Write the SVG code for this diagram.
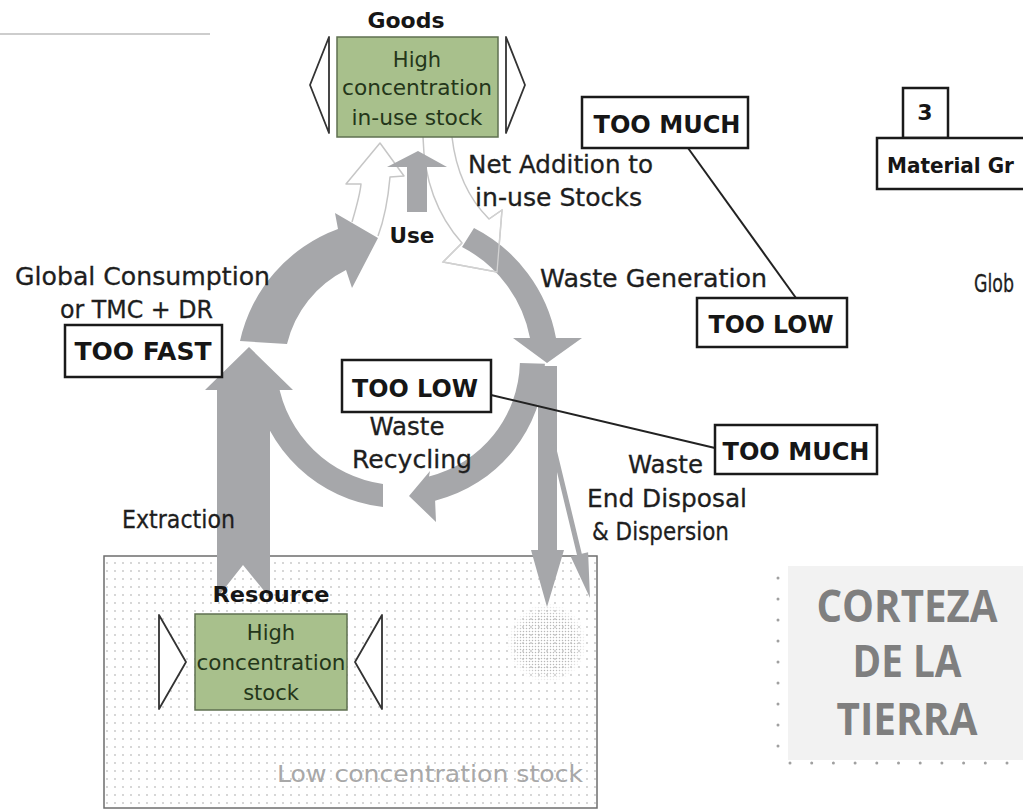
<svg xmlns="http://www.w3.org/2000/svg" width="1023" height="811" viewBox="0 0 1023 811">
  <style>
    .lbl { font-family: "DejaVu Sans", "Liberation Sans", sans-serif; font-size: 24px; fill: #1e1e1e; stroke: #1e1e1e; stroke-width: 0.3; }
    .bold { font-family: "DejaVu Sans", "Liberation Sans", sans-serif; font-weight: bold; fill: #161616; }
    .inbox { font-family: "DejaVu Sans", "Liberation Sans", sans-serif; font-size: 21px; fill: #24361a; text-anchor: middle; }
    .tag { font-family: "DejaVu Sans", "Liberation Sans", sans-serif; font-weight: bold; font-size: 25px; fill: #161616; text-anchor: middle; }
    .tagbox { fill: #ffffff; stroke: #1a1a1a; stroke-width: 2.5; }
    .stock { fill: #a8c08c; stroke: #5f7050; stroke-width: 1.5; }
    .tri { fill: #ffffff; stroke: #333333; stroke-width: 1.8; stroke-linejoin: round; }
    .flow { fill: #a6a7aa; }
    .ghost { fill: #ffffff; stroke: #c6c6c6; stroke-width: 1.5; stroke-linejoin: round; }
    .ghost-line { fill: none; stroke: #d2d2d2; stroke-width: 1.3; }
    .leader { stroke: #222222; stroke-width: 2; fill: none; }
    .crust { font-family: "Open Sans", "Liberation Sans", sans-serif; font-weight: bold; font-size: 44px; fill: #7f7f7f; text-anchor: middle; }
  </style>
  <defs>
    <pattern id="dots" width="8" height="8" patternUnits="userSpaceOnUse">
      <circle cx="3" cy="3" r="0.9" fill="#c4c4c4"/>
    </pattern>
    <pattern id="stipple" width="3" height="3" patternUnits="userSpaceOnUse">
      <circle cx="1.5" cy="1.5" r="0.75" fill="#b8b8b8"/>
    </pattern>
    <radialGradient id="fade">
      <stop offset="0.7" stop-color="#ffffff" stop-opacity="1"/>
      <stop offset="1" stop-color="#ffffff" stop-opacity="0"/>
    </radialGradient>
    <mask id="soft">
      <circle cx="547" cy="643" r="40" fill="url(#fade)"/>
    </mask>
  </defs>

  <rect width="1023" height="811" fill="#ffffff"/>

  <!-- thin rule at top left -->
  <line x1="0" y1="34" x2="210" y2="34" stroke="#bcbcbc" stroke-width="1.5"/>

  <!-- low concentration stock (ground) -->
  <g id="node-low-stock">
    <rect x="104" y="556" width="493" height="252" fill="#ffffff" stroke="#6e6e6e" stroke-width="1.5"/>
    <rect x="105" y="557" width="491" height="250" fill="url(#dots)"/>
    <circle cx="547" cy="643" r="40" fill="url(#stipple)" mask="url(#soft)"/>
    <text x="277" y="782" font-family="DejaVu Sans, Liberation Sans, sans-serif" font-size="23" fill="#a8a8a8" textLength="306" lengthAdjust="spacingAndGlyphs">Low concentration stock</text>
  </g>

  <!-- earth crust label -->
  <g id="node-crust">
    <rect x="788" y="566" width="235" height="194" fill="#f2f2f2"/>
    <line x1="778" y1="578" x2="778" y2="750" stroke="#a0a0a0" stroke-width="3" stroke-linecap="round" stroke-dasharray="0 21"/>
    <line x1="790" y1="763" x2="1020" y2="763" stroke="#a0a0a0" stroke-width="3" stroke-linecap="round" stroke-dasharray="0 21.7"/>
    <text class="crust" x="907" y="622" textLength="181" lengthAdjust="spacingAndGlyphs">CORTEZA</text>
    <text class="crust" x="907" y="677" textLength="109" lengthAdjust="spacingAndGlyphs">DE LA</text>
    <text class="crust" x="907" y="735" textLength="141" lengthAdjust="spacingAndGlyphs">TIERRA</text>
  </g>

  <!-- material flows -->
  <g id="connectors">
    <!-- outlined net-addition flows -->
    <path id="net-in" class="ghost" d="M352,222 C357,205 360,195 361,184 L346,184 L380,143 L404,176 L390,177 C388,200 384,220 378,236"/>
    <path id="net-out" class="ghost" d="M423,137 C424,180 437,215 462,243 L443,262 L497,272 L502,210 L489,219 C470,200 456,172 452,137"/>

    <!-- consumption arc into use -->
    <path class="flow" d="M240,341 A155,155 0 0,1 338,229 L335,213 L378,238 L352,288 L346,270 A112,112 0 0,0 287,344 Z"/>
    <!-- use arrow up to goods -->
    <path class="flow" d="M407,212 L407,167 L387,167 L418,151 L447,167 L427,167 L427,212 Z"/>
    <!-- waste generation arc -->
    <path class="flow" d="M474,228 A155,155 0 0,1 556,338 L582,338 L547,363 L513,338 L530,338 A130,130 0 0,0 462,247 Z"/>
    <!-- recycling arc -->
    <path class="flow" d="M544.9,363.8 A145,145 0 0,1 435.1,500.7 L436,522 L409,496 L430,471 L429,476.4 A120,120 0 0,0 519.9,363.1 Z"/>
    <!-- recycled material back to consumption -->
    <path class="flow" d="M383,507 A148,148 0 0,1 254.2,385.7 L277.9,381.5 A124,124 0 0,0 383,484 Z"/>
    <!-- extraction -->
    <path class="flow" d="M217,598 L217,390 L205,390 L249,347 L293,390 L270,390 L270,598 L243,565 Z"/>
    <!-- end disposal -->
    <path class="flow" d="M538,366 L557,366 L557,550 L564,550 L547,607 L531,550 L538,550 Z"/>
    <!-- dispersion -->
    <path class="flow" d="M550.6,445.6 L555.4,444.4 L581.8,553.7 L588.1,552.2 L590,598 L570.7,556.4 L577,554.9 Z"/>

    <!-- net addition outline visible across the waste arc -->
    <path class="ghost-line" d="M462,243 L443,262 L497,272 L502,210 L489,219"/>

    <!-- indicator leaders -->
    <line class="leader" x1="688" y1="148" x2="796" y2="298"/>
    <line class="leader" x1="491" y1="395" x2="715" y2="448"/>
  </g>

  <!-- in-use stock of goods -->
  <g id="node-goods">
    <text class="bold" x="406" y="28" font-size="21" text-anchor="middle" textLength="77" lengthAdjust="spacingAndGlyphs">Goods</text>
    <polygon class="tri" points="329,37 310,85 329,133"/>
    <polygon class="tri" points="506,37 525,85 506,133"/>
    <rect class="stock" x="337" y="37" width="161" height="100"/>
    <text class="inbox" x="417" y="67">High</text>
    <text class="inbox" x="417" y="95" textLength="150" lengthAdjust="spacingAndGlyphs">concentration</text>
    <text class="inbox" x="417" y="125" textLength="131" lengthAdjust="spacingAndGlyphs">in-use stock</text>
  </g>

  <!-- natural resource stock -->
  <g id="node-resource">
    <text class="bold" x="271" y="602" font-size="22" text-anchor="middle" textLength="117" lengthAdjust="spacingAndGlyphs">Resource</text>
    <polygon class="tri" points="159,615 186,662 159,709"/>
    <polygon class="tri" points="382,615 355,662 382,709"/>
    <rect class="stock" x="195" y="614" width="152" height="96"/>
    <text class="inbox" x="271" y="640">High</text>
    <text class="inbox" x="271" y="670" textLength="149" lengthAdjust="spacingAndGlyphs">concentration</text>
    <text class="inbox" x="271" y="700">stock</text>
  </g>

  <!-- flow labels -->
  <g id="node-use">
    <text class="bold" x="412" y="243" font-size="22" text-anchor="middle" textLength="45" lengthAdjust="spacingAndGlyphs">Use</text>
  </g>
  <g id="node-net-addition">
    <text class="lbl" x="468" y="173" textLength="185" lengthAdjust="spacingAndGlyphs">Net Addition to</text>
    <text class="lbl" x="475" y="206" textLength="167" lengthAdjust="spacingAndGlyphs">in-use Stocks</text>
  </g>
  <g id="node-waste-generation">
    <text class="lbl" x="540" y="287" textLength="227" lengthAdjust="spacingAndGlyphs">Waste Generation</text>
  </g>
  <g id="node-consumption">
    <text class="lbl" x="15" y="285" textLength="255" lengthAdjust="spacingAndGlyphs">Global Consumption</text>
    <text class="lbl" x="60" y="318" textLength="153" lengthAdjust="spacingAndGlyphs">or TMC + DR</text>
  </g>
  <g id="node-extraction">
    <text class="lbl" x="122" y="528" font-size="21" textLength="113" lengthAdjust="spacingAndGlyphs">Extraction</text>
  </g>
  <g id="node-recycling">
    <text class="lbl" x="407" y="435" text-anchor="middle" textLength="75" lengthAdjust="spacingAndGlyphs">Waste</text>
    <text class="lbl" x="412" y="468" text-anchor="middle" textLength="120" lengthAdjust="spacingAndGlyphs">Recycling</text>
  </g>
  <g id="node-disposal">
    <text class="lbl" x="628" y="473" textLength="75" lengthAdjust="spacingAndGlyphs">Waste</text>
    <text class="lbl" x="587" y="507" textLength="160" lengthAdjust="spacingAndGlyphs">End Disposal</text>
    <text class="lbl" x="592" y="540" textLength="137" lengthAdjust="spacingAndGlyphs">&amp; Dispersion</text>
  </g>

  <!-- indicator tags -->
  <g id="tag-too-much-top">
    <rect class="tagbox" x="582" y="97" width="166" height="51"/>
    <text class="tag" x="667" y="133" textLength="147" lengthAdjust="spacingAndGlyphs">TOO MUCH</text>
  </g>
  <g id="tag-too-low-right">
    <rect class="tagbox" x="697" y="298" width="150" height="49"/>
    <text class="tag" x="771" y="333" textLength="125" lengthAdjust="spacingAndGlyphs">TOO LOW</text>
  </g>
  <g id="tag-too-fast">
    <rect class="tagbox" x="65" y="325" width="157" height="52"/>
    <text class="tag" x="143" y="360" textLength="137" lengthAdjust="spacingAndGlyphs">TOO FAST</text>
  </g>
  <g id="tag-too-low-center">
    <rect class="tagbox" x="342" y="360" width="149" height="52"/>
    <text class="tag" x="415" y="397" textLength="126" lengthAdjust="spacingAndGlyphs">TOO LOW</text>
  </g>
  <g id="tag-too-much-bottom">
    <rect class="tagbox" x="715" y="425" width="162" height="49"/>
    <text class="tag" x="796" y="460" textLength="147" lengthAdjust="spacingAndGlyphs">TOO MUCH</text>
  </g>

  <!-- second panel heading, running to the right edge -->
  <g id="node-panel-3">
    <rect class="tagbox" x="903" y="88" width="45" height="50"/>
    <text class="bold" x="925" y="120" font-size="22" text-anchor="middle">3</text>
    <rect class="tagbox" x="877" y="138" width="160" height="51"/>
    <text class="bold" x="887" y="173" font-size="21" textLength="127" lengthAdjust="spacingAndGlyphs">Material Gr</text>
  </g>
  <g id="node-panel-3-label">
    <text class="lbl" x="974" y="292" textLength="40" lengthAdjust="spacingAndGlyphs">Glob</text>
  </g>
</svg>
